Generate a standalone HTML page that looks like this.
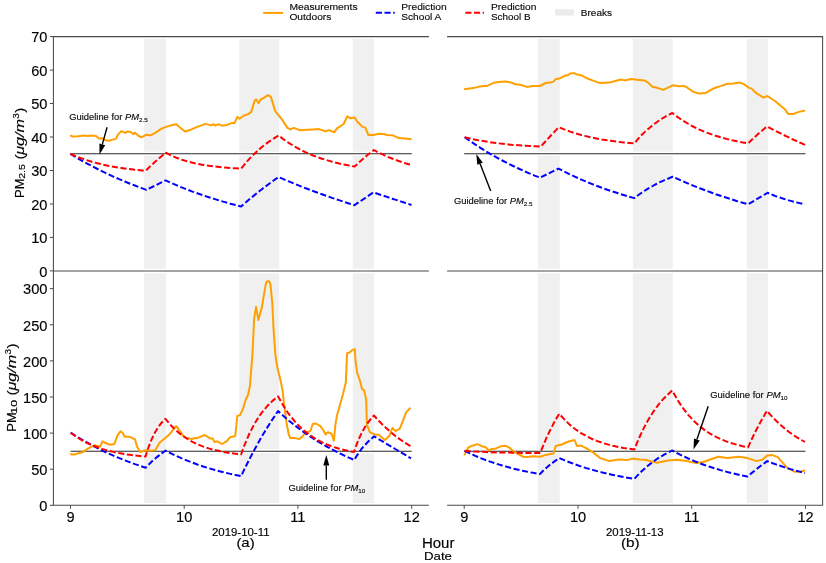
<!DOCTYPE html><html><head><meta charset="utf-8"><style>html,body{margin:0;padding:0;background:#fff;}svg{display:block;will-change:transform;}text{font-family:"Liberation Sans",sans-serif;fill:#000;}</style></head><body>
<svg width="826" height="563" viewBox="0 0 826 563">
<rect x="144.1" y="36.6" width="21.9" height="468.7" fill="#f0f0f0"/>
<rect x="239.3" y="36.6" width="39.9" height="468.7" fill="#f0f0f0"/>
<rect x="352.8" y="36.6" width="21.1" height="468.7" fill="#f0f0f0"/>
<rect x="537.8" y="36.6" width="22.0" height="468.7" fill="#f0f0f0"/>
<rect x="632.9" y="36.6" width="39.8" height="468.7" fill="#f0f0f0"/>
<rect x="746.8" y="36.6" width="21.1" height="468.7" fill="#f0f0f0"/>
<line x1="53.4" y1="36.6" x2="428.9" y2="36.6" stroke="#fff" stroke-width="4.5"/>
<line x1="53.4" y1="270.9" x2="428.9" y2="270.9" stroke="#fff" stroke-width="4.5"/>
<line x1="53.4" y1="505.3" x2="428.9" y2="505.3" stroke="#fff" stroke-width="4.5"/>
<line x1="70.5" y1="153.7" x2="411.7" y2="153.7" stroke="#fff" stroke-width="4"/>
<line x1="70.5" y1="451.2" x2="411.7" y2="451.2" stroke="#fff" stroke-width="4"/>
<line x1="447.1" y1="36.6" x2="822.6" y2="36.6" stroke="#fff" stroke-width="4.5"/>
<line x1="447.1" y1="270.9" x2="822.6" y2="270.9" stroke="#fff" stroke-width="4.5"/>
<line x1="447.1" y1="505.3" x2="822.6" y2="505.3" stroke="#fff" stroke-width="4.5"/>
<line x1="464.2" y1="153.7" x2="805.5" y2="153.7" stroke="#fff" stroke-width="4"/>
<line x1="464.2" y1="451.2" x2="805.5" y2="451.2" stroke="#fff" stroke-width="4"/>
<line x1="70.5" y1="153.7" x2="411.7" y2="153.7" stroke="#2a2a2a" stroke-width="1.1"/>
<line x1="70.5" y1="451.2" x2="411.7" y2="451.2" stroke="#2a2a2a" stroke-width="1.1"/>
<line x1="464.2" y1="153.7" x2="805.5" y2="153.7" stroke="#2a2a2a" stroke-width="1.1"/>
<line x1="464.2" y1="451.2" x2="805.5" y2="451.2" stroke="#2a2a2a" stroke-width="1.1"/>
<polyline points="70.0,135.4 72.9,136.6 78.0,136.3 83.8,135.6 87.4,136.1 91.0,135.4 96.1,136.1 99.0,138.5 101.6,138.2 105.6,140.3 109.2,140.7 112.8,139.6 115.7,138.9 118.4,134.1 121.4,131.1 125.2,132.8 127.7,131.5 130.7,131.9 133.2,134.1 134.9,132.8 137.9,135.3 140.8,137.2 143.8,136.2 146.4,134.7 150.6,135.3 154.8,133.2 161.6,128.6 167.5,126.4 172.6,125.0 176.4,124.3 180.3,127.7 185.0,131.5 190.9,129.7 196.0,127.4 205.4,123.9 211.2,125.4 213.4,124.2 215.6,125.7 218.5,124.2 222.1,125.7 226.5,125.0 231.6,123.1 234.5,123.1 237.4,117.0 239.6,118.7 243.9,115.5 248.3,114.1 251.2,111.9 254.8,100.3 256.3,99.5 258.5,103.2 260.6,99.5 263.5,98.1 267.9,95.2 270.8,96.6 275.2,111.2 281.7,119.1 287.5,127.9 290.4,129.3 294.0,127.9 300.0,130.2 307.3,129.8 313.1,129.5 318.9,129.1 325.4,131.2 329.1,130.1 334.1,132.3 337.0,128.3 343.6,124.0 347.2,116.3 350.1,118.2 354.5,117.4 357.4,121.8 362.5,126.9 365.4,127.6 368.3,134.9 373.4,134.9 379.2,133.7 383.5,134.1 387.2,134.9 392.3,135.2 398.8,138.1 404.6,138.5 411.5,139.3" fill="none" stroke="#ffa000" stroke-width="2" stroke-linejoin="round"/>
<polyline points="70.3,153.9 75.8,157.1 81.2,160.3 86.6,163.3 92.1,166.2 97.5,169.0 102.9,171.7 108.4,174.3 113.8,176.8 119.2,179.2 124.7,181.5 130.1,183.7 135.5,185.8 141.0,187.9 146.4,189.9 165.5,180.4 170.9,182.8 176.3,185.1 181.7,187.4 187.1,189.5 192.5,191.6 197.9,193.5 203.3,195.4 208.7,197.2 214.1,198.9 219.5,200.6 224.9,202.1 230.3,203.7 235.7,205.1 241.1,206.5 243.8,204.1 246.5,201.8 249.1,199.5 251.8,197.3 254.5,195.1 257.2,192.9 259.9,190.8 262.5,188.7 265.2,186.7 267.9,184.7 270.6,182.7 273.2,180.8 275.9,178.9 278.6,177.1 284.0,179.4 289.4,181.7 294.8,183.9 300.3,186.1 305.7,188.2 311.1,190.3 316.5,192.3 321.9,194.3 327.3,196.2 332.7,198.1 338.2,199.9 343.6,201.7 349.0,203.5 354.4,205.2 373.4,192.4 376.1,193.3 378.8,194.2 381.6,195.1 384.3,196.0 387.0,196.9 389.7,197.8 392.4,198.7 395.2,199.6 397.9,200.5 400.6,201.4 403.3,202.3 406.1,203.2 408.8,204.1 411.5,205.0" fill="none" stroke="#0000ff" stroke-width="2" stroke-linejoin="round" stroke-dasharray="6.1,2.6"/>
<polyline points="70.3,153.9 75.7,156.2 81.1,158.3 86.5,160.1 91.8,161.8 97.2,163.2 102.6,164.5 108.0,165.7 113.3,166.7 118.7,167.6 124.1,168.4 129.5,169.1 134.8,169.7 140.2,170.3 145.6,170.8 147.0,169.4 148.5,168.0 149.9,166.6 151.4,165.3 152.8,163.9 154.3,162.6 155.7,161.3 157.1,160.0 158.6,158.8 160.0,157.5 161.5,156.3 162.9,155.1 164.4,153.9 165.8,152.7 171.2,155.5 176.6,157.8 181.9,159.7 187.3,161.4 192.7,162.8 198.1,163.9 203.4,164.9 208.8,165.8 214.2,166.5 219.6,167.0 225.0,167.5 230.3,168.0 235.7,168.3 241.1,168.6 243.8,165.3 246.5,162.1 249.1,159.1 251.8,156.3 254.5,153.7 257.2,151.2 259.9,148.8 262.5,146.6 265.2,144.4 267.9,142.4 270.6,140.6 273.2,138.8 275.9,137.1 278.6,135.5 284.0,139.7 289.5,143.4 294.9,146.7 300.3,149.7 305.7,152.3 311.2,154.7 316.6,156.8 322.0,158.7 327.5,160.4 332.9,162.0 338.3,163.3 343.7,164.5 349.2,165.6 354.6,166.6 356.0,165.3 357.4,164.0 358.7,162.7 360.1,161.4 361.5,160.2 362.9,159.0 364.2,157.8 365.6,156.6 367.0,155.5 368.4,154.3 369.8,153.2 371.1,152.1 372.5,151.1 373.9,150.0 376.6,151.5 379.3,152.8 382.0,154.2 384.6,155.4 387.3,156.6 390.0,157.7 392.7,158.8 395.4,159.8 398.1,160.8 400.8,161.7 403.4,162.6 406.1,163.5 408.8,164.2 411.5,165.0" fill="none" stroke="#ff0000" stroke-width="2" stroke-linejoin="round" stroke-dasharray="6.1,2.6"/>
<polyline points="464.1,89.3 473.2,88.1 479.2,86.6 487.7,85.7 493.7,82.8 498.6,82.0 505.8,81.5 510.7,82.4 515.5,84.2 520.4,84.8 527.0,86.9 532.5,86.0 539.7,86.0 545.8,83.0 550.0,82.6 553.0,81.9 556.0,79.0 560.3,78.2 564.5,75.8 568.2,75.0 571.2,73.2 574.2,73.2 577.2,74.6 582.1,75.6 586.3,78.0 592.4,80.4 600.2,83.1 609.3,82.6 615.4,81.0 620.8,79.5 624.5,80.4 631.1,79.0 637.2,79.8 644.4,80.4 648.0,82.6 652.3,86.7 657.1,87.7 663.2,89.9 668.0,87.7 672.8,85.3 678.9,86.2 683.7,85.9 687.4,87.7 693.4,91.9 699.5,93.5 705.5,93.1 710.4,90.1 715.2,87.7 721.3,85.9 727.3,83.8 733.4,83.5 739.4,82.6 743.7,84.0 748.6,87.6 751.5,88.6 756.3,93.2 763.6,97.6 767.4,96.0 775.7,101.5 780.5,105.8 784.4,108.7 788.3,114.1 793.1,114.1 798.0,112.1 805.0,110.5" fill="none" stroke="#ffa000" stroke-width="2" stroke-linejoin="round"/>
<polyline points="464.6,137.2 470.0,141.0 475.4,144.6 480.8,148.1 486.1,151.4 491.5,154.6 496.9,157.6 502.3,160.5 507.7,163.3 513.1,166.0 518.5,168.5 523.8,171.0 529.2,173.3 534.6,175.6 540.0,177.7 558.5,168.6 563.9,171.4 569.3,174.1 574.7,176.6 580.2,179.1 585.6,181.4 591.0,183.6 596.4,185.7 601.8,187.8 607.2,189.7 612.6,191.5 618.1,193.3 623.5,195.0 628.9,196.6 634.3,198.1 637.0,196.0 639.8,194.0 642.5,192.1 645.3,190.3 648.0,188.6 650.8,187.0 653.5,185.5 656.3,184.0 659.0,182.6 661.8,181.3 664.5,180.1 667.3,179.0 670.0,177.8 672.8,176.8 678.2,179.2 683.6,181.6 688.9,183.9 694.3,186.1 699.7,188.2 705.1,190.3 710.5,192.2 715.8,194.2 721.2,196.0 726.6,197.8 732.0,199.5 737.3,201.2 742.7,202.8 748.1,204.3 767.5,192.8 770.2,193.9 772.9,195.0 775.5,196.1 778.2,197.0 780.9,197.9 783.6,198.8 786.2,199.6 788.9,200.4 791.6,201.1 794.3,201.8 797.0,202.5 799.6,203.1 802.3,203.7 805.0,204.2" fill="none" stroke="#0000ff" stroke-width="2" stroke-linejoin="round" stroke-dasharray="6.1,2.6"/>
<polyline points="464.6,137.2 470.0,138.5 475.5,139.7 480.9,140.7 486.4,141.6 491.8,142.4 497.3,143.2 502.7,143.8 508.1,144.4 513.6,144.9 519.0,145.3 524.5,145.7 529.9,146.0 535.4,146.3 540.8,146.6 542.1,145.2 543.4,143.7 544.7,142.3 545.9,140.9 547.2,139.5 548.5,138.1 549.8,136.7 551.1,135.3 552.4,133.9 553.7,132.6 554.9,131.2 556.2,129.9 557.5,128.5 558.8,127.2 564.2,129.4 569.6,131.4 575.0,133.2 580.4,134.8 585.8,136.1 591.2,137.4 596.5,138.5 601.9,139.5 607.3,140.3 612.7,141.1 618.1,141.8 623.5,142.4 628.9,142.9 634.3,143.4 637.0,140.2 639.7,137.1 642.4,134.3 645.2,131.6 647.9,129.2 650.6,126.9 653.3,124.7 656.0,122.7 658.7,120.8 661.4,119.0 664.2,117.3 666.9,115.8 669.6,114.4 672.3,113.0 677.7,117.1 683.1,120.8 688.5,124.0 694.0,127.0 699.4,129.6 704.8,131.9 710.2,133.9 715.6,135.8 721.0,137.4 726.4,138.9 731.9,140.2 737.3,141.3 742.7,142.4 748.1,143.3 749.5,142.0 750.8,140.7 752.1,139.4 753.5,138.2 754.9,136.9 756.2,135.7 757.5,134.5 758.9,133.3 760.2,132.1 761.6,131.0 763.0,129.8 764.3,128.7 765.6,127.6 767.0,126.5 769.7,127.9 772.4,129.3 775.1,130.7 777.9,132.1 780.6,133.4 783.3,134.8 786.0,136.1 788.7,137.4 791.4,138.7 794.1,140.0 796.9,141.2 799.6,142.5 802.3,143.7 805.0,144.9" fill="none" stroke="#ff0000" stroke-width="2" stroke-linejoin="round" stroke-dasharray="6.1,2.6"/>
<polyline points="70.1,454.3 74.3,454.6 78.4,453.3 82.5,452.3 85.6,450.2 89.7,447.6 94.8,445.1 100.0,446.6 102.6,441.3 106.2,443.3 110.3,444.8 114.4,444.0 117.5,435.3 120.6,431.2 122.6,432.7 124.7,436.8 129.8,436.8 135.0,439.4 137.0,446.6 140.1,452.0 145.3,450.2 150.0,450.7 155.1,450.3 159.6,442.7 165.3,438.0 169.3,434.6 176.0,426.0 179.3,430.0 183.3,436.0 186.6,438.0 192.0,439.0 194.6,438.0 197.3,438.2 204.6,435.0 210.6,438.6 212.6,438.6 214.6,442.0 217.3,441.3 222.0,444.0 226.6,441.3 230.0,437.3 235.3,436.0 237.3,416.0 239.9,415.1 242.6,410.0 245.6,400.0 248.1,394.7 249.9,386.0 252.4,354.9 254.2,318.0 256.1,306.8 258.3,319.9 261.7,308.1 263.6,296.9 266.1,282.6 267.3,281.3 269.2,281.3 270.4,284.4 272.3,303.1 273.6,330.0 275.4,354.9 277.3,367.3 280.4,379.7 282.5,390.0 284.8,409.6 286.3,421.7 288.6,433.8 290.1,438.0 294.6,438.0 299.2,439.1 302.2,436.8 305.2,433.0 310.5,430.8 312.7,424.0 315.8,423.5 320.3,426.2 323.3,430.0 325.6,434.5 327.8,432.3 331.6,433.8 333.9,440.6 335.4,424.7 336.9,415.7 339.9,405.1 342.9,394.5 345.8,382.6 346.5,366.7 347.1,353.3 349.2,352.8 352.4,350.1 354.7,349.1 355.6,361.3 357.2,373.0 359.9,380.5 362.0,389.0 364.1,390.1 366.2,400.0 366.9,424.9 370.0,432.4 375.0,434.6 378.7,434.8 384.9,440.1 389.3,436.1 392.4,428.0 395.5,431.1 399.8,428.6 402.3,422.4 406.1,412.4 410.5,407.8" fill="none" stroke="#ffa000" stroke-width="2" stroke-linejoin="round"/>
<polyline points="70.7,432.7 76.0,436.1 81.4,439.3 86.8,442.4 92.1,445.4 97.5,448.1 102.8,450.8 108.2,453.3 113.5,455.7 118.8,457.9 124.2,460.1 129.6,462.1 134.9,464.1 140.2,465.9 145.6,467.7 147.0,466.2 148.5,464.8 149.9,463.4 151.3,462.1 152.7,460.8 154.2,459.5 155.6,458.3 157.0,457.1 158.5,455.9 159.9,454.8 161.3,453.7 162.7,452.6 164.2,451.6 165.6,450.6 171.0,453.4 176.4,456.0 181.8,458.4 187.2,460.6 192.6,462.7 198.0,464.7 203.3,466.5 208.7,468.2 214.1,469.8 219.5,471.3 224.9,472.6 230.3,473.9 235.7,475.1 241.1,476.2 243.7,470.6 246.4,465.2 249.0,460.0 251.7,454.9 254.3,449.9 257.0,445.1 259.6,440.4 262.2,435.8 264.9,431.4 267.5,427.1 270.2,422.9 272.8,418.9 275.5,414.9 278.1,411.1 283.5,416.0 289.0,420.7 294.4,425.1 299.9,429.2 305.3,433.2 310.8,436.9 316.2,440.4 321.6,443.7 327.1,446.8 332.5,449.7 338.0,452.5 343.4,455.2 348.9,457.7 354.3,460.0 355.7,457.6 357.1,455.3 358.6,453.2 360.0,451.1 361.4,449.2 362.8,447.4 364.2,445.7 365.7,444.2 367.1,442.7 368.5,441.3 369.9,439.9 371.4,438.7 372.8,437.5 374.2,436.4 376.8,438.0 379.5,439.6 382.1,441.1 384.7,442.7 387.3,444.3 390.0,445.8 392.6,447.4 395.2,449.0 397.9,450.5 400.5,452.1 403.1,453.6 405.7,455.2 408.4,456.8 411.0,458.3" fill="none" stroke="#0000ff" stroke-width="2" stroke-linejoin="round" stroke-dasharray="6.1,2.6"/>
<polyline points="70.7,432.7 76.0,436.6 81.4,440.0 86.7,442.8 92.1,445.3 97.4,447.3 102.8,449.1 108.1,450.6 113.4,451.9 118.8,453.1 124.1,454.0 129.5,454.8 134.8,455.5 140.2,456.1 145.5,456.6 146.9,452.0 148.3,447.8 149.8,443.9 151.2,440.4 152.6,437.3 154.0,434.4 155.4,431.7 156.9,429.3 158.3,427.1 159.7,425.1 161.1,423.3 162.6,421.7 164.0,420.2 165.4,418.8 170.8,425.2 176.2,430.5 181.6,435.0 187.0,438.7 192.4,441.8 197.8,444.4 203.2,446.6 208.7,448.4 214.1,449.9 219.5,451.1 224.9,452.2 230.3,453.1 235.7,453.8 241.1,454.4 243.7,447.1 246.4,440.5 249.0,434.5 251.7,429.1 254.3,424.2 257.0,419.8 259.6,415.7 262.2,412.1 264.9,408.8 267.5,405.8 270.2,403.1 272.8,400.6 275.5,398.4 278.1,396.4 283.5,406.1 288.9,414.2 294.4,421.0 299.8,426.8 305.2,431.6 310.6,435.7 316.1,439.2 321.5,442.1 326.9,444.5 332.3,446.6 337.7,448.3 343.2,449.7 348.6,451.0 354.0,452.0 355.4,447.8 356.9,443.9 358.3,440.4 359.7,437.1 361.1,434.1 362.6,431.3 364.0,428.7 365.4,426.3 366.9,424.1 368.3,422.1 369.7,420.3 371.1,418.5 372.6,417.0 374.0,415.5 376.6,418.5 379.3,421.3 381.9,424.0 384.6,426.6 387.2,429.0 389.9,431.4 392.5,433.6 395.1,435.7 397.8,437.7 400.4,439.7 403.1,441.5 405.7,443.2 408.4,444.9 411.0,446.5" fill="none" stroke="#ff0000" stroke-width="2" stroke-linejoin="round" stroke-dasharray="6.1,2.6"/>
<polyline points="464.1,455.4 468.2,447.7 472.3,445.7 477.5,444.1 481.6,446.2 485.2,447.0 488.8,450.3 490.9,449.3 496.0,448.4 501.2,446.2 505.3,445.7 509.4,447.7 513.5,451.3 517.6,453.9 523.8,457.0 527.9,457.0 532.0,456.3 540.3,456.7 545.1,455.1 553.4,453.6 555.7,446.0 561.7,444.5 568.6,441.5 574.6,440.0 576.9,446.0 580.7,445.6 585.2,447.6 592.7,452.1 600.3,458.1 609.3,461.1 618.4,459.6 627.5,460.1 632.0,458.6 640.0,459.6 646.3,460.0 657.0,462.8 668.0,460.5 677.3,459.8 686.6,461.1 696.0,462.9 703.4,462.0 710.9,459.2 718.3,456.8 727.6,457.9 738.8,456.8 747.5,458.1 756.6,461.1 762.6,459.6 767.2,455.5 772.5,455.1 777.7,457.1 787.5,468.2 794.6,471.7 799.9,471.7 805.0,470.5" fill="none" stroke="#ffa000" stroke-width="2" stroke-linejoin="round"/>
<polyline points="464.6,450.8 470.0,453.4 475.3,455.8 480.7,458.1 486.1,460.2 491.5,462.1 496.8,463.9 502.2,465.5 507.6,467.0 512.9,468.5 518.3,469.8 523.7,471.0 529.1,472.1 534.4,473.1 539.8,474.1 541.2,472.7 542.6,471.3 544.0,470.0 545.4,468.7 546.8,467.5 548.2,466.3 549.6,465.1 551.0,464.0 552.4,463.0 553.8,461.9 555.2,460.9 556.6,459.9 558.0,459.0 559.4,458.1 564.8,460.4 570.1,462.5 575.5,464.5 580.8,466.4 586.2,468.1 591.5,469.6 596.9,471.1 602.3,472.5 607.6,473.7 613.0,474.9 618.3,476.0 623.7,477.0 629.0,477.9 634.4,478.8 637.1,475.9 639.8,473.1 642.5,470.5 645.2,468.1 647.9,465.8 650.6,463.6 653.3,461.6 656.0,459.7 658.7,457.9 661.4,456.3 664.1,454.7 666.8,453.2 669.5,451.8 672.2,450.5 677.6,453.4 682.9,456.0 688.3,458.5 693.7,460.8 699.1,463.0 704.4,465.0 709.8,466.8 715.2,468.5 720.5,470.1 725.9,471.6 731.3,473.0 736.7,474.3 742.0,475.5 747.4,476.6 748.8,475.4 750.2,474.2 751.6,473.1 753.1,471.9 754.5,470.8 755.9,469.6 757.3,468.5 758.7,467.4 760.1,466.3 761.5,465.3 763.0,464.2 764.4,463.2 765.8,462.1 767.2,461.1 769.9,462.2 772.6,463.2 775.3,464.1 778.0,465.1 780.7,466.0 783.4,466.9 786.1,467.8 788.8,468.6 791.5,469.4 794.2,470.2 796.9,470.9 799.6,471.6 802.3,472.3 805.0,473.0" fill="none" stroke="#0000ff" stroke-width="2" stroke-linejoin="round" stroke-dasharray="6.1,2.6"/>
<polyline points="464.6,450.8 470.0,451.2 475.4,451.5 480.8,451.8 486.2,452.1 491.6,452.3 497.0,452.4 502.4,452.5 507.9,452.6 513.3,452.7 518.7,452.8 524.1,452.9 529.5,452.9 534.9,453.0 540.3,453.0 541.6,449.5 543.0,446.1 544.4,442.9 545.7,439.7 547.0,436.7 548.4,433.8 549.8,430.9 551.1,428.2 552.5,425.6 553.8,423.0 555.1,420.6 556.5,418.2 557.9,415.9 559.2,413.7 564.6,419.7 569.9,424.9 575.3,429.2 580.7,432.9 586.1,436.0 591.4,438.7 596.8,440.9 602.2,442.8 607.5,444.4 612.9,445.8 618.3,447.0 623.7,448.0 629.0,448.8 634.4,449.5 637.1,442.7 639.8,436.5 642.5,430.7 645.2,425.4 647.9,420.5 650.6,416.0 653.3,411.8 656.0,408.0 658.7,404.4 661.4,401.2 664.1,398.2 666.8,395.4 669.5,392.9 672.2,390.5 677.6,400.1 683.0,408.2 688.4,415.1 693.9,420.9 699.3,425.9 704.7,430.1 710.1,433.7 715.5,436.7 720.9,439.2 726.3,441.4 731.8,443.3 737.2,444.8 742.6,446.2 748.0,447.3 749.4,444.3 750.7,441.4 752.1,438.5 753.4,435.7 754.8,433.0 756.1,430.3 757.5,427.7 758.9,425.1 760.2,422.6 761.6,420.1 762.9,417.7 764.3,415.4 765.6,413.1 767.0,410.8 769.7,414.0 772.4,417.0 775.1,419.8 777.9,422.4 780.6,425.0 783.3,427.3 786.0,429.6 788.7,431.7 791.4,433.6 794.1,435.5 796.9,437.3 799.6,438.9 802.3,440.5 805.0,442.0" fill="none" stroke="#ff0000" stroke-width="2" stroke-linejoin="round" stroke-dasharray="6.1,2.6"/>
<line x1="107.1" y1="127.2" x2="102.3" y2="144.4" stroke="#000" stroke-width="1.4"/><polygon points="99.5,154.5 99.4,143.5 105.2,145.2" fill="#000"/>
<line x1="490.7" y1="191.0" x2="480.1" y2="163.7" stroke="#000" stroke-width="1.4"/><polygon points="476.3,154.0 482.9,162.7 477.3,164.8" fill="#000"/>
<line x1="326.3" y1="479.7" x2="326.3" y2="465.5" stroke="#000" stroke-width="1.4"/><polygon points="326.3,455.0 329.3,465.5 323.3,465.5" fill="#000"/>
<line x1="708.2" y1="406.2" x2="696.9" y2="439.5" stroke="#000" stroke-width="1.4"/><polygon points="693.5,449.5 694.0,438.5 699.7,440.5" fill="#000"/>
<path d="M428.9,36.6 H53.4 V505.3 H428.9 M53.4,270.9 H428.9" fill="none" stroke="#4a4a4a" stroke-width="1.05"/>
<path d="M447.1,36.6 H822.6 V505.3 H447.1 M447.1,270.9 H822.6" fill="none" stroke="#4a4a4a" stroke-width="1.05"/>
<path d="M49.9,270.9H53.4M49.9,237.4H53.4M49.9,204.0H53.4M49.9,170.5H53.4M49.9,137.0H53.4M49.9,103.5H53.4M49.9,70.1H53.4M49.9,36.6H53.4M49.9,505.3H53.4M49.9,469.2H53.4M49.9,433.1H53.4M49.9,397.0H53.4M49.9,360.9H53.4M49.9,324.8H53.4M49.9,288.6H53.4M70.5,505.3V508.8M464.2,505.3V508.8M184.2,505.3V508.8M578.0,505.3V508.8M297.9,505.3V508.8M691.7,505.3V508.8M411.7,505.3V508.8M805.5,505.3V508.8" stroke="#4a4a4a" stroke-width="1"/>
<text x="47.4" y="276.7" font-size="14.6" text-anchor="end" stroke="#000" stroke-width="0.15">0</text>
<text x="47.4" y="243.2" font-size="14.6" text-anchor="end" stroke="#000" stroke-width="0.15">10</text>
<text x="47.4" y="209.8" font-size="14.6" text-anchor="end" stroke="#000" stroke-width="0.15">20</text>
<text x="47.4" y="176.3" font-size="14.6" text-anchor="end" stroke="#000" stroke-width="0.15">30</text>
<text x="47.4" y="142.8" font-size="14.6" text-anchor="end" stroke="#000" stroke-width="0.15">40</text>
<text x="47.4" y="109.3" font-size="14.6" text-anchor="end" stroke="#000" stroke-width="0.15">50</text>
<text x="47.4" y="75.9" font-size="14.6" text-anchor="end" stroke="#000" stroke-width="0.15">60</text>
<text x="47.4" y="42.4" font-size="14.6" text-anchor="end" stroke="#000" stroke-width="0.15">70</text>
<text x="47.4" y="511.1" font-size="14.6" text-anchor="end" stroke="#000" stroke-width="0.15">0</text>
<text x="47.4" y="475.0" font-size="14.6" text-anchor="end" stroke="#000" stroke-width="0.15">50</text>
<text x="47.4" y="438.9" font-size="14.6" text-anchor="end" stroke="#000" stroke-width="0.15">100</text>
<text x="47.4" y="402.8" font-size="14.6" text-anchor="end" stroke="#000" stroke-width="0.15">150</text>
<text x="47.4" y="366.7" font-size="14.6" text-anchor="end" stroke="#000" stroke-width="0.15">200</text>
<text x="47.4" y="330.6" font-size="14.6" text-anchor="end" stroke="#000" stroke-width="0.15">250</text>
<text x="47.4" y="294.4" font-size="14.6" text-anchor="end" stroke="#000" stroke-width="0.15">300</text>
<text x="70.5" y="521.8" font-size="14.6" text-anchor="middle" stroke="#000" stroke-width="0.15">9</text>
<text x="464.2" y="521.8" font-size="14.6" text-anchor="middle" stroke="#000" stroke-width="0.15">9</text>
<text x="184.2" y="521.8" font-size="14.6" text-anchor="middle" stroke="#000" stroke-width="0.15">10</text>
<text x="578.0" y="521.8" font-size="14.6" text-anchor="middle" stroke="#000" stroke-width="0.15">10</text>
<text x="297.9" y="521.8" font-size="14.6" text-anchor="middle" stroke="#000" stroke-width="0.15">11</text>
<text x="691.7" y="521.8" font-size="14.6" text-anchor="middle" stroke="#000" stroke-width="0.15">11</text>
<text x="411.7" y="521.8" font-size="14.6" text-anchor="middle" stroke="#000" stroke-width="0.15">12</text>
<text x="805.5" y="521.8" font-size="14.6" text-anchor="middle" stroke="#000" stroke-width="0.15">12</text>
<text transform="translate(23.90,198.00) rotate(-90)" font-size="13.6" stroke="#000" stroke-width="0.15" textLength="19.4" lengthAdjust="spacingAndGlyphs">PM</text><text transform="translate(25.30,178.80) rotate(-90)" font-size="9.0" stroke="#000" stroke-width="0.15" textLength="14.8" lengthAdjust="spacingAndGlyphs">2.5</text><text transform="translate(23.90,159.60) rotate(-90)" font-size="13.6" stroke="#000" stroke-width="0.15" textLength="5.2" lengthAdjust="spacingAndGlyphs">(</text><text transform="translate(23.90,154.80) rotate(-90)" font-size="13.6" font-style="italic" stroke="#000" stroke-width="0.15" textLength="35.8" lengthAdjust="spacingAndGlyphs">μg/m</text><text transform="translate(19.20,118.80) rotate(-90)" font-size="9.0" stroke="#000" stroke-width="0.15" textLength="5.5" lengthAdjust="spacingAndGlyphs">3</text><text transform="translate(23.90,112.80) rotate(-90)" font-size="13.6" stroke="#000" stroke-width="0.15" textLength="5.2" lengthAdjust="spacingAndGlyphs">)</text>
<text transform="translate(15.60,431.70) rotate(-90)" font-size="13.6" stroke="#000" stroke-width="0.15" textLength="19.4" lengthAdjust="spacingAndGlyphs">PM</text><text transform="translate(17.00,414.10) rotate(-90)" font-size="9.0" stroke="#000" stroke-width="0.15" textLength="14.4" lengthAdjust="spacingAndGlyphs">10</text><text transform="translate(15.60,395.40) rotate(-90)" font-size="13.6" stroke="#000" stroke-width="0.15" textLength="5.2" lengthAdjust="spacingAndGlyphs">(</text><text transform="translate(15.60,390.60) rotate(-90)" font-size="13.6" font-style="italic" stroke="#000" stroke-width="0.15" textLength="35.8" lengthAdjust="spacingAndGlyphs">μg/m</text><text transform="translate(10.90,354.60) rotate(-90)" font-size="9.0" stroke="#000" stroke-width="0.15" textLength="5.5" lengthAdjust="spacingAndGlyphs">3</text><text transform="translate(15.60,348.60) rotate(-90)" font-size="13.6" stroke="#000" stroke-width="0.15" textLength="5.2" lengthAdjust="spacingAndGlyphs">)</text>
<text x="212" y="535.6" font-size="10.6" stroke="#000" stroke-width="0.15" textLength="57.5" lengthAdjust="spacingAndGlyphs">2019-10-11</text>
<text x="236.4" y="547.2" font-size="13.3" stroke="#000" stroke-width="0.15" textLength="18.3" lengthAdjust="spacingAndGlyphs">(a)</text>
<text x="606" y="535.6" font-size="10.6" stroke="#000" stroke-width="0.15" textLength="57.5" lengthAdjust="spacingAndGlyphs">2019-11-13</text>
<text x="621" y="547.2" font-size="13.3" stroke="#000" stroke-width="0.15" textLength="18.7" lengthAdjust="spacingAndGlyphs">(b)</text>
<text x="421.9" y="547.6" font-size="14.1" stroke="#000" stroke-width="0.15" textLength="32.6" lengthAdjust="spacingAndGlyphs">Hour</text>
<text x="424" y="559.7" font-size="11.5" stroke="#000" stroke-width="0.15" textLength="28" lengthAdjust="spacingAndGlyphs">Date</text>
<text x="69.2" y="120.3" font-size="9.3" fill="#222" stroke="#222" stroke-width="0.15" textLength="78.6" lengthAdjust="spacingAndGlyphs">Guideline for <tspan font-style="italic">PM</tspan><tspan font-size="6.2" dy="2.0">2.5</tspan></text>
<text x="453.9" y="204.1" font-size="9.3" fill="#222" stroke="#222" stroke-width="0.15" textLength="78.6" lengthAdjust="spacingAndGlyphs">Guideline for <tspan font-style="italic">PM</tspan><tspan font-size="6.2" dy="2.0">2.5</tspan></text>
<text x="288.4" y="491.2" font-size="9.3" fill="#222" stroke="#222" stroke-width="0.15" textLength="76.8" lengthAdjust="spacingAndGlyphs">Guideline for <tspan font-style="italic">PM</tspan><tspan font-size="6.2" dy="2.0">10</tspan></text>
<text x="710.2" y="397.7" font-size="9.3" fill="#222" stroke="#222" stroke-width="0.15" textLength="77.4" lengthAdjust="spacingAndGlyphs">Guideline for <tspan font-style="italic">PM</tspan><tspan font-size="6.2" dy="2.0">10</tspan></text>
<line x1="263.2" y1="12.9" x2="283.1" y2="12.9" stroke="#ffa000" stroke-width="2"/>
<line x1="375.8" y1="12.7" x2="394.7" y2="12.7" stroke="#0000ff" stroke-width="2" stroke-dasharray="6.1,2.6"/>
<line x1="465.3" y1="12.7" x2="484" y2="12.7" stroke="#ff0000" stroke-width="2" stroke-dasharray="6.1,2.6"/>
<rect x="555" y="9.1" width="18.9" height="6.5" fill="#ebebeb"/>
<text x="289.4" y="9.7" font-size="9.7" fill="#222" stroke="#222" stroke-width="0.15" textLength="68.2" lengthAdjust="spacingAndGlyphs">Measurements</text>
<text x="289.4" y="20.2" font-size="9.7" fill="#222" stroke="#222" stroke-width="0.15" textLength="42.0" lengthAdjust="spacingAndGlyphs">Outdoors</text>
<text x="401.2" y="9.8" font-size="9.7" fill="#222" stroke="#222" stroke-width="0.15" textLength="45.6" lengthAdjust="spacingAndGlyphs">Prediction</text>
<text x="401.2" y="20.2" font-size="9.7" fill="#222" stroke="#222" stroke-width="0.15" textLength="40.2" lengthAdjust="spacingAndGlyphs">School A</text>
<text x="491.0" y="9.8" font-size="9.7" fill="#222" stroke="#222" stroke-width="0.15" textLength="45.4" lengthAdjust="spacingAndGlyphs">Prediction</text>
<text x="491.0" y="20.2" font-size="9.7" fill="#222" stroke="#222" stroke-width="0.15" textLength="39.6" lengthAdjust="spacingAndGlyphs">School B</text>
<text x="580.8" y="15.8" font-size="9.7" fill="#222" stroke="#222" stroke-width="0.15" textLength="31.2" lengthAdjust="spacingAndGlyphs">Breaks</text>
</svg></body></html>
